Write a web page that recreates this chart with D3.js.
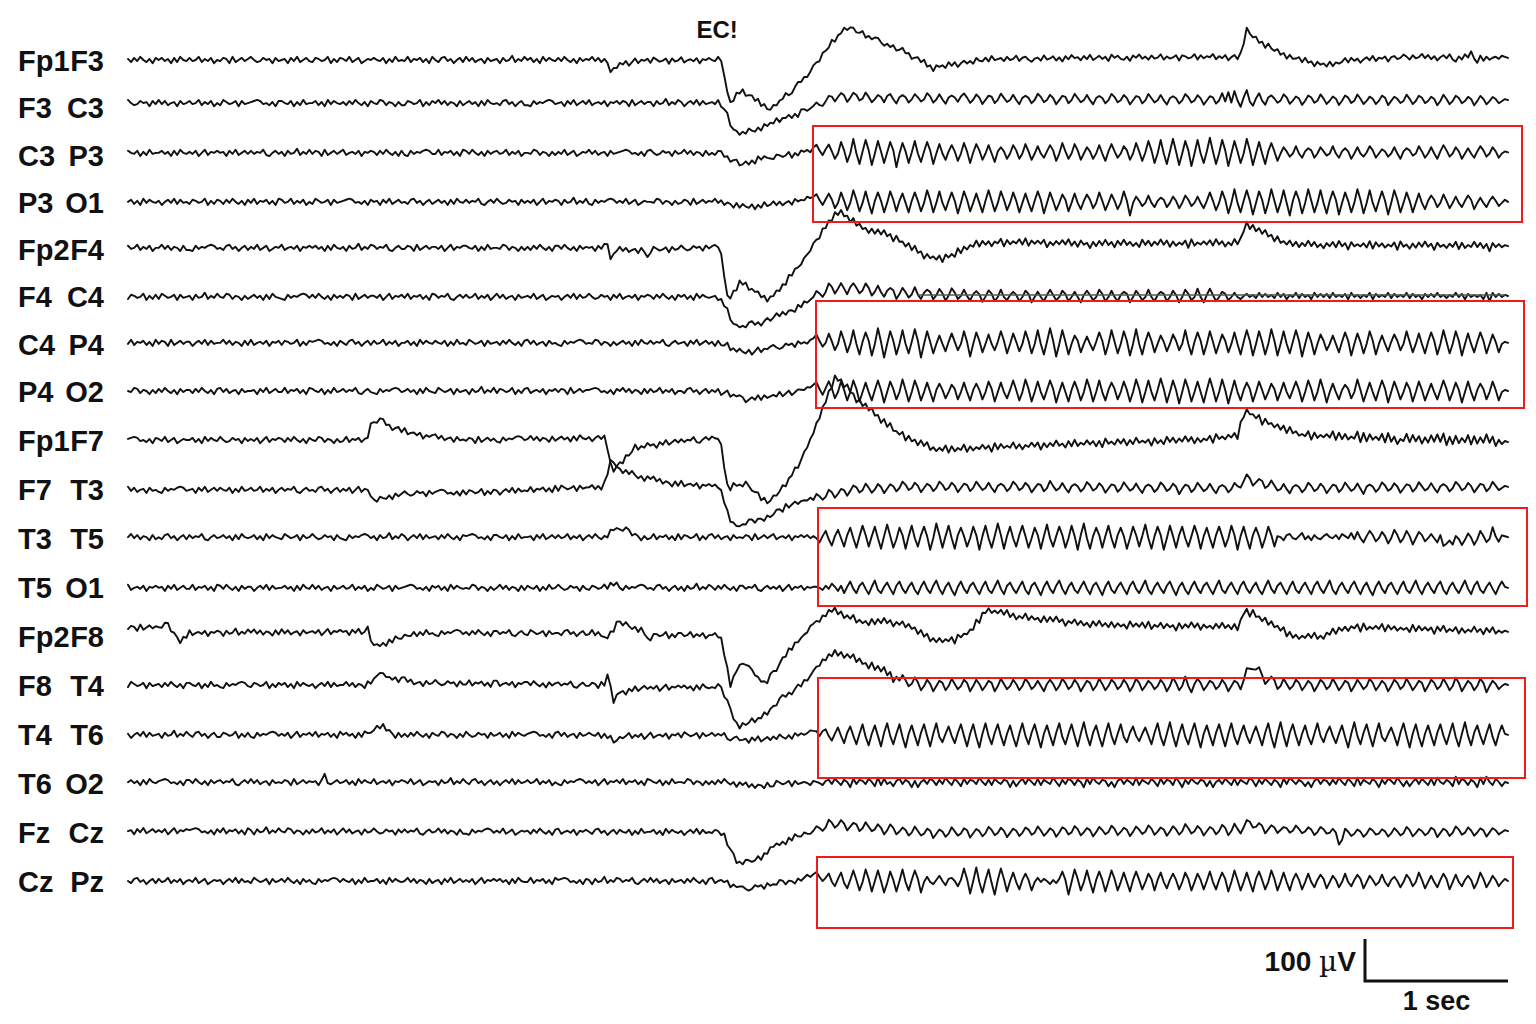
<!DOCTYPE html>
<html>
<head>
<meta charset="utf-8">
<script src="https://cdn.jsdelivr.net/npm/d3@7"></script>
<style>
  html, body { margin: 0; padding: 0; background: #ffffff; }
  svg { display: block; }
  text { font-family: "Liberation Sans", Arial, Helvetica, sans-serif; font-weight: bold; fill: #111; }
</style>
</head>
<body>
<svg id="chart" width="1536" height="1024"></svg>
<script>
// ---------------- DATA ----------------
const CHANNELS = ["Fp1F3","F3C3","C3P3","P3O1","Fp2F4","F4C4","C4P4","P4O2","Fp1F7","F7T3","T3T5","T5O1","Fp2F8","F8T4","T4T6","T6O2","FzCz","CzPz"];
const ELECTRODE_A = ["Fp1","F3","C3","P3","Fp2","F4","C4","P4","Fp1","F7","T3","T5","Fp2","F8","T4","T6","Fz","Cz"];
const ELECTRODE_B = ["F3","C3","P3","O1","F4","C4","P4","O2","F7","T3","T5","O1","F8","T4","T6","O2","Cz","Pz"];
const TOTAL_SECONDS = 9.65;      // length of the page
const WAVE_UNIT_UV = 2.5;        // one wave step, in microvolts
const EVENT_LABEL = "EC!";
const EVENT_TIME = 4.12;         // seconds (eyes closed)
const SCALE_UV = 100;
const SCALE_SEC = 1;
const SCALE_TEXT_UV = ["100 ", "\u00b5", "V"];
const SCALE_TEXT_SEC = "1 sec";

// slow component of each trace: [seconds, microvolts (up positive)]
const trendFp1F3 = [[0,0],[3.343,0],[3.385,-29],[3.427,-10],[3.580,-2],[4.133,0],[4.161,-14],[4.203,-105],[4.252,-81],[4.294,-71],[4.385,-95],[4.490,-119],[4.594,-88],[4.769,-29],[4.909,36],[5.028,79],[5.119,64],[5.259,43],[5.434,19],[5.629,-19],[5.783,-10],[6.028,2],[6.797,5],[7.762,7],[7.790,19],[7.818,71],[7.881,52],[7.986,29],[8.126,7],[8.371,-14],[8.545,0],[9.035,7],[9.650,5]];
const trendF3C3 = [[0,10],[4.140,10],[4.182,-11],[4.224,-46],[4.273,-66],[4.420,-49],[4.559,-30],[4.699,-14],[4.839,8],[4.965,27],[5.189,22],[6.098,20],[9.650,17]];
const trendC3P3 = [[0,4],[4.126,4],[4.238,-14],[4.294,-24],[4.420,-10],[4.650,0],[4.790,12],[4.930,5],[9.650,5]];
const trendP3O1 = [[0,0],[4.126,0],[4.330,-12],[4.550,-5],[4.790,10],[4.930,0],[9.650,0]];
const trendFp2F4 = [[0,3],[3.329,3],[3.350,22],[3.378,-31],[3.413,-2],[3.608,-2],[3.629,-21],[3.657,-2],[4.112,5],[4.147,-14],[4.196,-121],[4.280,-78],[4.385,-102],[4.490,-121],[4.699,-38],[4.874,50],[4.958,93],[5.119,52],[5.350,29],[5.587,-19],[5.713,-21],[5.923,10],[6.098,17],[6.797,12],[7.776,14],[7.818,64],[7.916,41],[8.126,10],[9.650,7]];
const trendF4C4 = [[0,-1],[4.126,-1],[4.168,-20],[4.245,-73],[4.420,-63],[4.650,-32],[4.888,15],[4.979,22],[5.189,15],[5.399,8],[6.098,1],[9.650,1]];
const trendC4P4 = [[0,2],[4.126,2],[4.294,-22],[4.490,-12],[4.790,8],[4.950,2],[9.650,2]];
const trendP4O2 = [[0,0],[4.126,0],[4.336,-21],[4.550,-10],[4.790,10],[4.950,0],[9.650,0]];
const trendFp1F7 = [[0,0],[1.664,0],[1.692,29],[1.720,43],[1.755,48],[1.832,33],[1.951,19],[2.112,7],[2.392,0],[3.329,5],[3.350,-12],[3.385,-79],[3.413,-64],[3.476,-43],[3.552,-19],[3.811,-5],[4.133,5],[4.154,-24],[4.196,-119],[4.245,-107],[4.315,-105],[4.385,-124],[4.476,-150],[4.587,-112],[4.720,-40],[4.797,24],[4.874,88],[4.951,150],[5.014,131],[5.105,95],[5.210,64],[5.371,19],[5.524,-5],[5.643,-24],[6.098,-17],[6.797,-7],[7.497,0],[7.762,10],[7.811,71],[7.916,48],[8.196,12],[8.895,0],[9.650,-5]];
const trendF7T3 = [[0,-2],[1.678,-2],[1.706,-31],[1.762,-26],[1.797,-19],[2.000,-10],[2.531,-7],[3.294,5],[3.329,7],[3.350,33],[3.378,69],[3.413,57],[3.441,45],[3.580,29],[3.790,14],[4.133,5],[4.161,-14],[4.196,-62],[4.238,-90],[4.350,-79],[4.462,-67],[4.629,-38],[4.846,-19],[5.049,-2],[5.399,5],[6.098,5],[7.762,2],[7.811,26],[7.902,17],[8.056,2],[9.650,5]];
const trendT3T5 = [[0,2],[3.329,2],[3.399,22],[3.476,19],[3.580,2],[9.168,2],[9.189,8],[9.217,-19],[9.273,-12],[9.343,-2],[9.650,2]];
const trendT5O1 = [[0,-2],[3.329,-2],[3.385,10],[3.476,-2],[9.650,-2]];
const trendFp2F8 = [[0,19],[0.224,21],[0.280,26],[0.329,2],[0.364,-10],[0.434,7],[1.657,10],[1.671,24],[1.699,-10],[1.727,-26],[1.853,-10],[2.021,7],[3.301,7],[3.322,-10],[3.350,-2],[3.427,31],[3.601,14],[3.636,-10],[3.685,2],[4.140,2],[4.161,-21],[4.210,-121],[4.280,-64],[4.350,-81],[4.455,-112],[4.629,-33],[4.804,31],[4.930,62],[5.119,33],[5.350,33],[5.490,21],[5.608,-10],[5.769,-10],[5.888,10],[6.007,62],[6.238,45],[6.797,26],[7.762,21],[7.811,62],[7.916,43],[8.147,-2],[8.336,-2],[8.545,21],[9.650,10]];
const trendF8T4 = [[0,0],[1.657,0],[1.776,24],[1.853,17],[2.021,5],[3.329,0],[3.350,29],[3.371,0],[3.392,-43],[3.427,-19],[3.601,-7],[4.140,-5],[4.182,-31],[4.266,-100],[4.420,-79],[4.559,-36],[4.748,12],[4.839,52],[4.944,76],[5.028,71],[5.119,55],[5.259,36],[5.350,17],[5.538,0],[7.776,0],[7.867,48],[7.930,21],[8.056,0],[9.650,0]];
const trendT4T6 = [[0,-2],[1.650,-2],[1.783,19],[1.860,-2],[3.343,-2],[3.399,-19],[3.476,-5],[4.126,-2],[4.300,-14],[4.490,-12],[4.720,0],[4.790,5],[4.950,-2],[9.650,-2]];
const trendT6O2 = [[0,2],[4.200,2],[4.350,-8],[4.600,0],[9.650,0]];
const trendFzCz = [[0,2],[4.154,0],[4.259,-74],[4.399,-67],[4.510,-36],[4.650,-14],[4.790,0],[4.930,21],[5.119,12],[5.350,5],[5.587,-2],[6.049,0],[7.776,5],[7.832,24],[7.916,10],[8.441,0],[8.476,-26],[8.510,-2],[9.650,2]];
const trendCzPz = [[0,0],[4.168,0],[4.294,-21],[4.399,-14],[4.650,0],[4.790,14],[4.930,0],[9.650,0]];

// fast component, one letter per sample: 0 = 0, a..z = +1..+26, A..Z = -1..-26 (x WAVE_UNIT_UV)
const waveFp1F3 = `
aBbAc0BaCb 0bAaCbBc0A bA0cBaAbC0 AbaCcB0bAa c0BAb0aCbA 0aCbAcB0bA BbaA0cCaBb aAcB0bCAa0
b0AbCaBcA0 AcBa0bBaCc 0BbcAaC0bB cAbB0aCbA0 aCbA0dBaAc 0bBaCcAb0A bAc0BaCbAa 0cAbBa0CbB
aAbC0cBa0b BcaA0bCbA0 cB0aAbCa0b 0AcbBa0CaB aC0bAcBbA0 bAa0cBC0bA aB0b
aBb0 AcBa 0bCa bA0c BaAb c0Ba AbB0 cAaC
0bAc BaCb 0aBc AbC0 bAaB c0Ab BcA0 aBbA
0cBa bAC0 aBcA 0bBa CbAc 0aBb AcB0 bAaC
c0bA BaCb 0cAa BbA0 cBaA 0bCb aA0c BbAa
0cBa AbC0 bBaA c0Ab BaCc 0AbB aCbA 0bBc
AaCb 0bAc BaA0 cBbA aC0b AcBa 0bCa bA0c
aBbA 0cAb BaC0 bAcB DaBc 0fAE bCaB 0aAb
a0`;
const waveF3C3 = `
c0BAb0aCbA cAbB0aCbA0 bA0cBaAbC0 BcaA0bCbA0 abcbA0BaCb b0AbCaBcA0 0bBaCcAb0A aBbAc0BaCb
0AcbBa0CaB BbaA0cCaBb 0cAbBa0CbB 0bAaCbBc0A 0BbcAaC0bB BCbAa0bcbA 0aCbAcB0bA cB0aAbCa0b
AbaCcB0bAa aCbA0dBaAc aC0bAcBbA0 aAcB0bCAa0 bAc0BaCbAa AcBa0bBaCc bA0a
cAC0 dbDA caEA dbCA eaDA caDb dAEa caDA
daCA ebDA dAEa caCb eaDA daEA cbDA eaCA
dAEa caDA ebCA daEA cbDA eaCA dAEa caDA
ebCA daEA cbDA eaCA dAEa caDA ebCA daEA
cbDA fBgC hAGb iBFa fAEb daCA ebDA caEA
dbCA eaDA caEA dbCA eaDA caDA dbEA caCA
eaDA dbCA caEA eaDA dbCA caEA daDA caCA
a0`;
const waveC3P3 = `
b0AbCaBcA0 0bAaCbBc0A aAbC0cBa0b 0aCbAcB0bA bAa0cBC0bA aCbA0dBaAc AbaCcB0bAa cB0aAbCa0b
aBbAc0BaCb BCbAa0bcbA AcBa0bBaCc bAc0BaCbAa bA0cBaAbC0 0AcbBa0CaB aAcB0bCAa0 cAbB0aCbA0
abcbA0BaCb c0BAb0aCbA 0cAbBa0CbB 0BbcAaC0bB 0bBaCcAb0A BbaA0cCaBb 0aBb
e0Db gaFA jbIA mAKa lbLA kaJ0 jbNA iaJ0
kAIa jbKA hAGa gaHA iaJ0 hbGA gAIa eaFA
gbFA haGA fAEa gbHA iaFA hbGA eaFA gAHa
haEA fbGA iaH0 kbJA lAKa maLA kbMA lAJa
naKA lbMA kaJA mbLA jAKa iaHA eaDA fAEa
dbEA eaCA fAEa daFA eAD0 fbEA caDA eAFa
dbCA faEA eAFa gbDA eaFA dAEa fbDA eaEA
a0`;
const waveP3O1 = `
0bBaCcAb0A aC0bAcBbA0 BbaA0cCaBb aBbAc0BaCb AcBa0bBaCc bA0cBaAbC0 BcaA0bCbA0 abcbA0BaCb
0aCbAcB0bA 0BbcAaC0bB 0bAaCbBc0A bAa0cBC0bA c0BAb0aCbA aAbC0cBa0b aCbA0dBaAc BCbAa0bcbA
aAcB0bCAa0 0AcbBa0CaB AbaCcB0bAa 0cAbBa0CbB b0AbCaBcA0 cAbB0aCbA0 Ab0a
dAEa gbFA iaHA kbIA jAKa iaJA jbIa hAJa
iaIA kbJA jAHa iaKA jbIA hAJa kaIA jbHA
iaJA hAIa jbKA iaHA gbIA hAGa gbFA iaHA
gaGA jaMA eaDA fAEa dbEA eaFA fbDA eAFa
iaHA jbKA lAJa kaLA jbKA laJA kAMa jbKA
laJA kAKa jbLA iaJA lbKA kAIa jaLA kbJA
iaJA hAGa fbEA gaFA eAEa fbGA dAEa eaDA
b0`;
const waveFp2F4 = `
bA0cBaAbC0 0cAbBa0CbB BCbAa0bcbA 0BbcAaC0bB aAcB0bCAa0 cB0aAbCa0b 0bAaCbBc0A aCbA0dBaAc
bAa0cBC0bA AbaCcB0bAa aAbC0cBa0b b0AbCaBcA0 0AcbBa0CaB aBbAc0BaCb bAc0BaCbAa 0aCbAcB0bA
cAbB0aCbA0 BcaA0bCbA0 c0BAb0aCbA abcbA0BaCb AcBa0bBaCc 0bBaCcAb0A a0Ab
aBcA bCaD cAbB dAcA aCbB cAdA bDcA aBcB
dAbC cAaB bDcA aCdB cAbA dBcA bCaA cDbB
aAcB dCbA bAcD aBbA cAdB bCcA aDbB cAdA
bCcA dAbB aCdA cBbA dAcC bBaA cDdB aAbA
cBdA bCaB dAcA aDbB cAdA bCcB aAdA cBbA
dAcB aCbA cBdA bDcA aAbB dCcA bBaA cDdA
aCbB cAdA bDcA aBbA dCcB aAdA cBbE cAbA
a0`;
const waveF4C4 = `
BbaA0cCaBb BcaA0bCbA0 aCbA0dBaAc 0AcbBa0CaB 0bAaCbBc0A BCbAa0bcbA bAc0BaCbAa AbaCcB0bAa
aAbC0cBa0b AcBa0bBaCc bAa0cBC0bA bA0cBaAbC0 cAbB0aCbA0 aAcB0bCAa0 aC0bAcBbA0 c0BAb0aCbA
cB0aAbCa0b aBbAc0BaCb 0bBaCcAb0A 0aCbAcB0bA 0BbcAaC0bB 0cAbBa0CbB bA0a
eaDA fbEA dAFa eaDA fbEA eAEa dbFA eaDA
fAEa dbEA eaFA fbDA eAEa daFA ebEA fADa
daEA ebFA dAEa faDA ebEA dAFa eaDA fbEA
eAEa dbFA eaDA fAEa dbEA eaFA fbDA gAFa
gaEA dbDA cAC0 bAaB cAbA aBcA bCaA cBbA
aCcA bAbB cAaA bCcA aBaA cCbA aAcB bAaA
cBbA aCbA bAcA aBaA cAbC bAaA aCcE cAbA
a0`;
const waveC4P4 = `
AcBa0bBaCc AbaCcB0bAa aC0bAcBbA0 0cAbBa0CbB cB0aAbCa0b BbaA0cCaBb abcbA0BaCb 0BbcAaC0bB
bA0cBaAbC0 0bBaCcAb0A b0AbCaBcA0 BcaA0bCbA0 aBbAc0BaCb cAbB0aCbA0 BCbAa0bcbA 0AcbBa0CaB
0bAaCbBc0A bAa0cBC0bA 0aCbAcB0bA aCbA0dBaAc aAbC0cBa0b c0BAb0aCbA 0Bab
f0EA haGA kbIA lAKa jbLA naNA kbKA lAJa
mbNA kaJA gAHa iaGA kaMA jbIA hAGa kbJA
iaHA kbJA lAKa nbMA laKA gbIA fAGa jbKA
laJA kbLA mAKa jbIA gaHA hbGA lAKa jbKA
kaJA hbIA jAKa lbLA kaKA mbLA kAJa lbMA
jaKA hbGA gAIa jbLA iaJA kbKA gAHa hbGA
kaIA iAJa jbKA laJA kbLA iAIa jbJA haIA
a0`;
const waveP4O2 = `
0AcbBa0CaB bAc0BaCbAa aBbAc0BaCb cAbB0aCbA0 0aCbAcB0bA AcBa0bBaCc b0AbCaBcA0 bAa0cBC0bA
BCbAa0bcbA 0bAaCbBc0A BcaA0bCbA0 aCbA0dBaAc BbaA0cCaBb cB0aAbCa0b AbaCcB0bAa abcbA0BaCb
0cAbBa0CbB bA0cBaAbC0 0BbcAaC0bB aAbC0cBa0b aC0bAcBbA0 aAcB0bCAa0 Aa0b
eAFa hbGA iaIA jbJA hAIa jaKA ibHA kaJA
jbIA hAJa gaGA fbHA hAIa gaHA ibJA hAGa
jaIA kbJA iAHa jbKA hAJa iaIA kbJA jAIa
hbHA iaJA kbKA jAIa lbKA jaLA kbJA iAKa
lbJA kaLA jAIa hbJA iaHA gbIA hAGa iaJA
jbIA kaKA gAHa fbGA kaJA hAIa jbKA iaHA
hbJA iaIA gAHa jbIA haKA iAIa gbHA iaIA
a0`;
const waveFp1F7 = `
abcbA0BaCb aAcB0bCAa0 0bBaCcAb0A c0BAb0aCbA aAbC0cBa0b aBbAc0BaCb 0AcbBa0CaB AcBa0bBaCc
0BbcAaC0bB cB0aAbCa0b cAbB0aCbA0 AbaCcB0bAa BCbAa0bcbA 0cAbBa0CbB 0bAaCbBc0A aC0bAcBbA0
aCbA0dBaAc 0aCbAcB0bA bAa0cBC0bA b0AbCaBcA0 BcaA0bCbA0 bA0cBaAbC0 bA0B
aBbA cAdB bCcA aDbB cAdA bCcB dAaA cDbB
aCcA dBbA bAdC cBaA dCbB aAcA bDdB cAaA
dBbC aAcA cDbB bAdA aCcB dBaA cAbC bDdA
aBcA cCbB dAaA bDcB aCdA cBbA dAcC bBaA
cDdA aBbA cCdB bAaA dDcA aBbB cCdA bAaA
dDcB aAbA eCdB cBaA fDeC dAbA eCfB cDaA
fBeA dCcB eAfA gDdC eBcA fCeB dAgA eDbB
a0`;
const waveF7T3 = `
cAbB0aCbA0 BCbAa0bcbA 0aCbAcB0bA b0AbCaBcA0 bA0cBaAbC0 bAa0cBC0bA 0BbcAaC0bB aAbC0cBa0b
bAc0BaCbAa c0BAb0aCbA abcbA0BaCb BbaA0cCaBb aC0bAcBbA0 AcBa0bBaCc BcaA0bCbA0 0bBaCcAb0A
aBbAc0BaCb 0cAbBa0CbB cB0aAbCa0b 0bAaCbBc0A 0AcbBa0CaB AbaCcB0bAa a0bA
daCA ebDA caEA dbCA eaDA daEA caDA ebCA
daEA caDA ebCA daEA cbDA eaCA dAEa caDA
ebCA daEA cbDA faCA dAEa caDA ebCA daEA
cbDA eaCA dAEa caDA ebCA daFA cbDA eaCA
dAEa caDA ebCA daEA cbDA eaCA dAEa caDA
ebCA daEA cbDA eaCA dAFa caDA ebCA daEA
cbDA eaCA dAEa caDA ebCA daEA cbDA eaCA
a0`;
const waveT3T5 = `
0cAbBa0CbB 0BbcAaC0bB bAa0cBC0bA 0bAaCbBc0A 0bBaCcAb0A BcaA0bCbA0 c0BAb0aCbA BCbAa0bcbA
aCbA0dBaAc aC0bAcBbA0 aBbAc0BaCb abcbA0BaCb b0AbCaBcA0 0aCbAcB0bA bA0cBaAbC0 bAc0BaCbAa
0AcbBa0CaB AcBa0bBaCc BbaA0cCaBb cAbB0aCbA0 AbaCcB0bAa cB0aAbCa0b 0bAa
AEaf BHag AIbi AJak bIaj AKal aJBi bKak
AIbj aLAm bJak AKbi aIAj bLak AJam bKaj
AIbk aJAi bKal AIaj bJAk aLbm AKai bJak
AJbi aKAj bIal AKaj bLAk aJbj AIak bKai
AJbj aIAk bLaj AKbi aJAj bIa0 CbcA BadB
aCbA Bac0 AbBc aAdB eAEa fbDA eaFA gbEA
faGA ebDA cAEa GbdA fbEA eaFA gbDA jaDb
a0`;
const waveT5O1 = `
cB0aAbCa0b 0aCbAcB0bA AcBa0bBaCc bAc0BaCbAa aC0bAcBbA0 0bAaCbBc0A cAbB0aCbA0 bA0cBaAbC0
BcaA0bCbA0 abcbA0BaCb 0bBaCcAb0A 0AcbBa0CaB 0cAbBa0CbB b0AbCaBcA0 c0BAb0aCbA BbaA0cCaBb
BCbAa0bcbA 0BbcAaC0bB aCbA0dBaAc aBbAc0BaCb bAa0cBC0bA aAbC0cBa0b Ba0a
a0Bb AdaC bEaf AEbe AFag BEae AFbf AEae
BFaf AEbg AFae BGaf AEbe AFaf BEag AFbe
AEaf BFbe AGaf AEbg AFae BEaf AFbe AGaf
BEae AFbf AEag BFae AEbf AGae BFaf AEbe
AFag BEae AFbf AEae BFag AEbe AFaf BEae
AFbf AEag BFae AEbf AFae BGaf AEbe AFaf
BEag AFae AEbf BFae AEag AFbf BEae AFaf
a0`;
const waveFp2F8 = `
AbaCcB0bAa 0AcbBa0CaB cB0aAbCa0b aCbA0dBaAc 0cAbBa0CbB cAbB0aCbA0 aAbC0cBa0b 0aCbAcB0bA
0bAaCbBc0A b0AbCaBcA0 BCbAa0bcbA aBbAc0BaCb bAa0cBC0bA BcaA0bCbA0 0BbcAaC0bB AcBa0bBaCc
bAc0BaCbAa BbaA0cCaBb bA0cBaAbC0 0bBaCcAb0A abcbA0BaCb aC0bAcBbA0 0Aba
aBbA cAcB bCaA dBbA aCcB cAdA bDaA cBbB
aCcA dAbB bBaA cDcA aAbB dCcA bBaA cAdB
bCaA dBbA aCcB cAdA bDaA cBbB aCcA dAbB
cBbA aCdA bAcB dCaA cBbA aDcB bAdA cCbA
aBcA dAbB cCaA bDdA aBcB cAbA dCcA bBaA
cAdB aCbA dBcA bCaA cDdB aAbA dCcA bBaA
aCdB cAbA bDcA dBaA cCbB aAdA bCcA dBaA
a0`;
const waveF8T4 = `
BcaA0bCbA0 aBbAc0BaCb b0AbCaBcA0 BCbAa0bcbA BbaA0cCaBb 0bBaCcAb0A aC0bAcBbA0 0cAbBa0CbB
abcbA0BaCb cAbB0aCbA0 c0BAb0aCbA AcBa0bBaCc cB0aAbCa0b bAc0BaCbAa bAa0cBC0bA AbaCcB0bAa
0aCbAcB0bA aAbC0cBa0b 0bAaCbBc0A 0AcbBa0CaB bA0cBaAbC0 0BbcAaC0bB bA0a
aBbA cAcB bCaA dBcA aCdB cAeA dDbA eaDA
fbEA eaFA dbEA faDA ebFA eaEA dbFA faDA
eaEA fbDA dAFa eaEA fbDA eaFA dbEA faEA
ebDA eaFA fbEA daDA eaFA gbEA hAGa fbEA
dbDA eaFA dbEA faDA eaFA dbEA faDA ebEA
daFA ebDA faEA dbFA eaDA fbEA daFA ebDA
faEA dbFA ebDA faEA gbFA daEA fbGA daDA
a0`;
const waveT4T6 = `
aC0bAcBbA0 aCbA0dBaAc 0BbcAaC0bB BbaA0cCaBb BCbAa0bcbA aAbC0cBa0b AcBa0bBaCc 0bAaCbBc0A
0cAbBa0CbB aBbAc0BaCb 0AcbBa0CaB c0BAb0aCbA 0bBaCcAb0A abcbA0BaCb cAbB0aCbA0 b0AbCaBcA0
bA0cBaAbC0 cB0aAbCa0b BcaA0bCbA0 bAa0cBC0bA 0aCbAcB0bA bAc0BaCbAa A0ba
aCbd BFag AHbh AIaj BJai AKbk AIaj BLai
AJbj AKak BGah AHbj AKaj BLak AIbj AJai
BKak AIbj ALai AJbk BIaj AKal AJbi BKak
AIaj BGbh AFag AIbk BJal AKaj BIbk ALai
AJbj AKak BIai AHah AJbk BLal AKbj AJai
BIak AGbh AHai BLal AIbj AKak BFag AJbk
ALaj BKai AJbj AIak BKal AJbi AIaj BJai
a0`;
const waveT6O2 = `
0bAaCbBc0A abcbA0BaCb bAc0BaCbAa bAa0cBC0bA cAbB0aCbA0 AbaCcB0bAa 0aCbhAB0bA 0bBaCcAb0A
cB0aAbCa0b aAcB0bCAa0 aCbA0dBaAc 0BbcAaC0bB aC0bAcBbA0 bA0cBaAbC0 BCbAa0bcbA aAbC0cBa0b
AcBa0bBaCc b0AbCaBcA0 0AcbBa0CaB aBbAc0BaCb 0cAbBa0CbB BcaA0bCbA0 a0Bb
a0Bb cAda BcaD dAcb AdaC eBdA aCbd AcaD
bDac AdbB cAea BdaC dAcb AeaB cBda AcbD
bCad AdaB dBca AeaC cAdb BcaD dAea AcbC
aDbd AcaB eBca AdaC dAcb BeaD cAda AcbC
bDac AdaB dBca AebC cAda BcaD dAeb AcaC
aDbd AcbB cAea BdaC eBca AdaD cAdb AeaC
bCad AdaB dBea AcaC fAdb BcaD eAfa BdaC
a0`;
const waveFzCz = `
0aCbAcB0bA aAbC0cBa0b abcbA0BaCb AcBa0bBaCc aCbA0dBaAc 0AcbBa0CaB bA0cBaAbC0 cAbB0aCbA0
c0BAb0aCbA bAa0cBC0bA 0cAbBa0CbB BCbAa0bcbA aAcB0bCAa0 aBbAc0BaCb cB0aAbCa0b 0BbcAaC0bB
b0AbCaBcA0 0bBaCcAb0A aC0bAcBbA0 AbaCcB0bAa BbaA0cCaBb 0bAaCbBc0A b0Aa
daCA eaDA daEA cbDA eaCA daEA ebDA caDA
eaCA dbEA caDA eaCA dbEA caDA ebCA daEA
caDA dbCA eaDA caEA dbCA ebDA caEA daCA
ebDA caEA daCA ebDA caEA daDA fbCA daEA
caDA ebEA faDA caCA dbEA caDA baCA daCA
caDA dbBA caDA daCA caDA dbBA caDA daCA
ebDA caCA dbEA caDA ebCA daDA caEA caCA
a0`;
const waveCzPz = `
0BbcAaC0bB bA0cBaAbC0 aAcB0bCAa0 aC0bAcBbA0 BcaA0bCbA0 bAc0BaCbAa BCbAa0bcbA b0AbCaBcA0
0bBaCcAb0A 0cAbBa0CbB 0aCbAcB0bA aAbC0cBa0b 0bAaCbBc0A AcBa0bBaCc abcbA0BaCb aCbA0dBaAc
bAa0cBC0bA cAbB0aCbA0 aBbAc0BaCb cB0aAbCa0b c0BAb0aCbA 0AcbBa0CaB 0bAa
d0Ca fAEb hBGa jaIA kbJ0 j0KB iaJ0 kAIa
jbKA dACa e0Db c0Ea lbL0 mAKa kBMa lbJ0
hAHa gaIA cAb0 CaBb iaMA kbIA jAKa iaJ0
jbIA hAJa iaHA gbIa hAGa gaHA hbIA gaH0
iAHa hbJA jaIA hAJb iaHA jbIA hAIa gaHA
gAFa fbGA eaFA gAEa fbGA eaDA fAEa d0FA
fbEA haGA eAFa gbHA fAEa eaGA hbFA eaEA
b0`;

// red highlight boxes: start/end in seconds, top/bottom in row units
const boxStart = [4.790, 4.811, 4.825, 4.825, 4.818];
const boxEnd = [9.748, 9.762, 9.783, 9.769, 9.685];
const boxTopRow = [1.396, 5.097, 9.388, 12.857, 16.510];
const boxBottomRow = [3.426, 7.347, 11.388, 14.898, 17.959];

// faint straight line seen across the F4 C4 trace: [start s, end s, row]
const strayLine = [5.52, 9.63, 4.97];

// ---------------- DRAWING ----------------
const TRENDS = [trendFp1F3,trendF3C3,trendC3P3,trendP3O1,trendFp2F4,trendF4C4,trendC4P4,trendP4O2,trendFp1F7,trendF7T3,trendT3T5,trendT5O1,trendFp2F8,trendF8T4,trendT4T6,trendT6O2,trendFzCz,trendCzPz];
const WAVES = [waveFp1F3,waveF3C3,waveC3P3,waveP3O1,waveFp2F4,waveF4C4,waveC4P4,waveP4O2,waveFp1F7,waveF7T3,waveT3T5,waveT5O1,waveFp2F8,waveF8T4,waveT4T6,waveT6O2,waveFzCz,waveCzPz];
const traceTable = CHANNELS.map((name, i) => ({ name, a: ELECTRODE_A[i], b: ELECTRODE_B[i], trend: TRENDS[i], wave: WAVES[i] }));

const svg = d3.select("#chart");
const x = d3.scaleLinear().domain([0, TOTAL_SECONDS]).range([128, 1508]);
const row = d3.scaleLinear().domain([0, 7, 17]).range([60, 391, 881]);
const amp = d3.scaleLinear().domain([0, 100]).range([0, -42]);

const decode = ch => ch === "0" ? 0 : (ch >= "a" ? ch.charCodeAt(0) - 96 : -(ch.charCodeAt(0) - 64));

svg.append("rect").attr("width", 1536).attr("height", 1024).attr("fill", "#ffffff");

const gTraces = svg.append("g").attr("class", "traces");
traceTable.forEach((tr, i) => {
  const samples = tr.wave.replace(/\s+/g, "").split("").map(decode);
  const dt = TOTAL_SECONDS / (samples.length - 1);
  const slow = d3.scaleLinear().domain(tr.trend.map(d => d[0])).range(tr.trend.map(d => d[1])).clamp(true);
  const pts = samples.map((w, k) => ({ t: k * dt, v: slow(k * dt) + w * WAVE_UNIT_UV }));
  const line = d3.line().x(d => x(d.t)).y(d => row(i) + amp(d.v));
  gTraces.append("path")
    .attr("d", line(pts))
    .attr("fill", "none")
    .attr("stroke", "#111111")
    .attr("stroke-width", 1.9)
    .attr("stroke-linejoin", "round")
    .attr("stroke-linecap", "round");
});

// stray straight line
svg.append("line")
  .attr("x1", x(strayLine[0])).attr("x2", x(strayLine[1]))
  .attr("y1", row(strayLine[2])).attr("y2", row(strayLine[2]))
  .attr("stroke", "#555").attr("stroke-width", 1.6);

// labels
const gLabels = svg.append("g").attr("class", "labels").style("font-size", "29px");
traceTable.forEach((tr, i) => {
  gLabels.append("text").attr("x", 18).attr("y", row(i) + 11).text(tr.a);
  gLabels.append("text").attr("x", 104).attr("y", row(i) + 11).attr("text-anchor", "end").text(tr.b);
});

// event marker
svg.append("text")
  .attr("x", x(EVENT_TIME)).attr("y", 38)
  .attr("text-anchor", "middle")
  .style("font-size", "24px")
  .text(EVENT_LABEL);

// red boxes
svg.append("g").selectAll("rect").data(boxStart.map((s, k) => k)).join("rect")
  .attr("x", k => x(boxStart[k]))
  .attr("y", k => row(boxTopRow[k]))
  .attr("width", k => x(boxEnd[k]) - x(boxStart[k]))
  .attr("height", k => row(boxBottomRow[k]) - row(boxTopRow[k]))
  .attr("fill", "none")
  .attr("stroke", "#ee1c1c")
  .attr("stroke-width", 2);

// calibration bar
const barY = 981;
const bar = svg.append("g").attr("class", "scalebar");
bar.append("path")
  .attr("d", d3.line()([[x(TOTAL_SECONDS - SCALE_SEC), barY + amp(SCALE_UV)], [x(TOTAL_SECONDS - SCALE_SEC), barY], [x(TOTAL_SECONDS), barY]]))
  .attr("fill", "none").attr("stroke", "#111").attr("stroke-width", 3);
const uvText = bar.append("text")
  .attr("x", x(TOTAL_SECONDS - SCALE_SEC) - 9).attr("y", 971)
  .attr("text-anchor", "end").style("font-size", "28px");
uvText.append("tspan").text(SCALE_TEXT_UV[0]);
uvText.append("tspan").style("font-weight", "normal").style("font-family", "'DejaVu Serif', serif").text(SCALE_TEXT_UV[1]);
uvText.append("tspan").text(SCALE_TEXT_UV[2]);
bar.append("text")
  .attr("x", (x(TOTAL_SECONDS - SCALE_SEC) + x(TOTAL_SECONDS)) / 2).attr("y", 1010)
  .attr("text-anchor", "middle").style("font-size", "27px")
  .text(SCALE_TEXT_SEC);
</script>
</body>
</html>
